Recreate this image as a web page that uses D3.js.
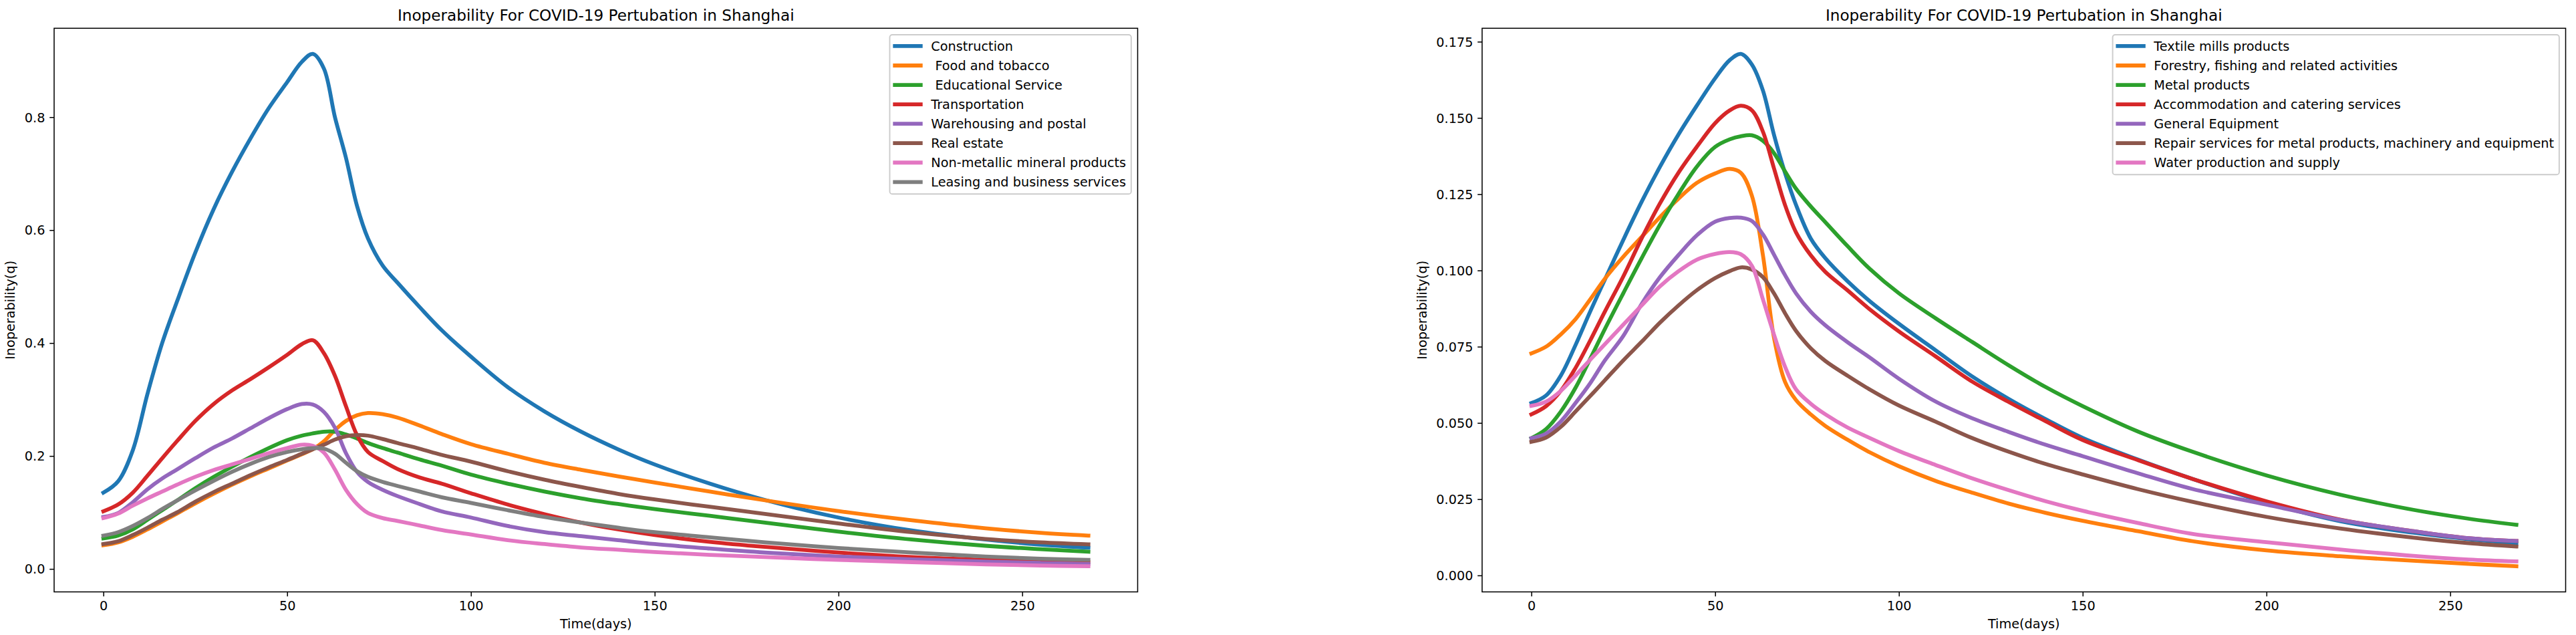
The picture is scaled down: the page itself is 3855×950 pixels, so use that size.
<!DOCTYPE html>
<html>
<head>
<meta charset="utf-8">
<script src="https://cdn.jsdelivr.net/npm/d3@7"></script>
<style>
    body { margin: 0; background: #fff; }
    text { font-family: "DejaVu Sans", sans-serif; fill: #000; }
    .legend text { white-space: pre; }
</style>
</head>
<body>
<div id="chart"></div>
<script>
// sample days shared by every curve
const days = [0, 4, 8, 12, 16, 20, 25, 30, 35, 40, 45, 50, 54, 57, 60, 63, 66, 69, 72, 76,
              80, 86, 92, 100, 110, 120, 130, 140, 150, 165, 180, 200, 220, 240, 255, 268]

// left panel series
const construction = [0.135, 0.155, 0.21, 0.31, 0.4, 0.473, 0.56, 0.637, 0.703, 0.762, 0.816, 0.862, 0.898, 0.912, 0.886, 0.8, 0.728, 0.643, 0.585, 0.537,
                      0.507, 0.464, 0.423, 0.376, 0.322, 0.279, 0.243, 0.212, 0.185, 0.151, 0.122, 0.091, 0.068, 0.052, 0.043, 0.0376]
const food = [0.042, 0.047, 0.057, 0.07, 0.084, 0.098, 0.116, 0.133, 0.149, 0.164, 0.178, 0.192, 0.203, 0.212, 0.226, 0.246, 0.262, 0.272, 0.276, 0.274,
              0.268, 0.254, 0.239, 0.221, 0.204, 0.188, 0.1755, 0.164, 0.153, 0.137, 0.1215, 0.1025, 0.086, 0.072, 0.064, 0.059]
const educational = [0.054, 0.059, 0.07, 0.087, 0.104, 0.121, 0.143, 0.163, 0.181, 0.198, 0.214, 0.228, 0.236, 0.24, 0.243, 0.243, 0.238, 0.231, 0.223, 0.214,
                     0.206, 0.194, 0.183, 0.167, 0.151, 0.137, 0.125, 0.115, 0.106, 0.094, 0.082, 0.066, 0.052, 0.041, 0.035, 0.0305]
const transport = [0.102, 0.114, 0.135, 0.165, 0.196, 0.226, 0.262, 0.292, 0.316, 0.336, 0.357, 0.379, 0.398, 0.405, 0.382, 0.342, 0.288, 0.237, 0.207, 0.191,
                   0.177, 0.162, 0.151, 0.134, 0.114, 0.097, 0.082, 0.07, 0.06, 0.048, 0.039, 0.029, 0.021, 0.016, 0.0135, 0.012]
const warehousing = [0.092, 0.099, 0.118, 0.141, 0.16, 0.176, 0.196, 0.215, 0.231, 0.249, 0.267, 0.283, 0.292, 0.291, 0.278, 0.25, 0.205, 0.172, 0.154, 0.14,
                     0.129, 0.115, 0.102, 0.091, 0.076, 0.065, 0.058, 0.051, 0.044, 0.036, 0.029, 0.022, 0.017, 0.013, 0.0105, 0.0087]
const realEstate = [0.044, 0.049, 0.06, 0.073, 0.087, 0.1, 0.119, 0.136, 0.151, 0.166, 0.18, 0.193, 0.204, 0.212, 0.22, 0.229, 0.235, 0.237, 0.236, 0.23,
                    0.223, 0.213, 0.202, 0.19, 0.173, 0.158, 0.145, 0.133, 0.123, 0.11, 0.0975, 0.0805, 0.065, 0.053, 0.047, 0.0435]
const nonMetallic = [0.09, 0.098, 0.112, 0.125, 0.137, 0.149, 0.163, 0.175, 0.185, 0.195, 0.205, 0.214, 0.22, 0.218, 0.206, 0.176, 0.14, 0.115, 0.099, 0.09,
                     0.085, 0.077, 0.069, 0.061, 0.051, 0.044, 0.038, 0.034, 0.03, 0.025, 0.021, 0.016, 0.012, 0.008, 0.006, 0.0047]
const leasing = [0.059, 0.065, 0.076, 0.09, 0.106, 0.121, 0.139, 0.156, 0.172, 0.186, 0.198, 0.207, 0.212, 0.214, 0.213, 0.204, 0.188, 0.173, 0.163, 0.154,
                 0.147, 0.137, 0.127, 0.117, 0.104, 0.092, 0.082, 0.073, 0.065, 0.056, 0.047, 0.037, 0.029, 0.022, 0.018, 0.016]

// right panel series
const textile = [0.0565, 0.059, 0.0655, 0.0755, 0.0865, 0.097, 0.11, 0.1225, 0.134, 0.1445, 0.154, 0.163, 0.169, 0.171, 0.1675, 0.159, 0.1445, 0.132, 0.1215, 0.1105,
                 0.104, 0.0965, 0.09, 0.0825, 0.0738, 0.0652, 0.0578, 0.0512, 0.0451, 0.038, 0.0316, 0.0239, 0.0178, 0.014, 0.0119, 0.0106]
const forestry = [0.0728, 0.075, 0.079, 0.084, 0.0905, 0.0973, 0.1045, 0.111, 0.1175, 0.1235, 0.1287, 0.1318, 0.1333, 0.132, 0.1245, 0.105, 0.078, 0.0635, 0.0575, 0.0528,
                  0.049, 0.0445, 0.0404, 0.0358, 0.031, 0.0271, 0.0235, 0.0205, 0.0179, 0.0145, 0.0112, 0.0082, 0.0063, 0.0048, 0.0038, 0.003]
const metal = [0.045, 0.048, 0.0537, 0.0615, 0.071, 0.0808, 0.0925, 0.104, 0.115, 0.125, 0.134, 0.1405, 0.143, 0.144, 0.1443, 0.1425, 0.1385, 0.1325, 0.1268, 0.121,
               0.1158, 0.108, 0.1006, 0.0925, 0.0843, 0.0765, 0.0688, 0.0617, 0.0555, 0.0472, 0.0405, 0.0328, 0.0265, 0.0215, 0.0186, 0.0166]
const accommodation = [0.0528, 0.0555, 0.0605, 0.068, 0.077, 0.0865, 0.098, 0.1105, 0.122, 0.132, 0.1405, 0.1483, 0.1525, 0.154, 0.1525, 0.1455, 0.1335, 0.1215, 0.1125, 0.105,
                       0.0995, 0.0935, 0.0873, 0.08, 0.0718, 0.0635, 0.0568, 0.0505, 0.0444, 0.0378, 0.0316, 0.0243, 0.0183, 0.0145, 0.0122, 0.0113]
const general = [0.045, 0.0465, 0.0505, 0.0565, 0.063, 0.0705, 0.0785, 0.089, 0.0978, 0.105, 0.1115, 0.116, 0.1172, 0.1173, 0.1162, 0.1118, 0.1052, 0.0985, 0.0925, 0.0865,
                 0.082, 0.0765, 0.0715, 0.0645, 0.057, 0.0515, 0.047, 0.0428, 0.0391, 0.0335, 0.0283, 0.0232, 0.0182, 0.0145, 0.0122, 0.0113]
const repair = [0.0438, 0.0452, 0.0487, 0.0537, 0.0588, 0.064, 0.0705, 0.0766, 0.0829, 0.0885, 0.0935, 0.0975, 0.0998, 0.101, 0.1003, 0.0978, 0.0925, 0.086, 0.0802, 0.0745,
                0.0703, 0.0655, 0.061, 0.0557, 0.0504, 0.045, 0.0405, 0.0365, 0.0331, 0.0283, 0.0241, 0.0192, 0.0154, 0.0124, 0.0106, 0.0095]
const water = [0.0556, 0.057, 0.0605, 0.0655, 0.0707, 0.0758, 0.0822, 0.0885, 0.0948, 0.0997, 0.1035, 0.1054, 0.106, 0.1053, 0.1015, 0.0905, 0.079, 0.0685, 0.061, 0.0563,
               0.0528, 0.0485, 0.0451, 0.0408, 0.0362, 0.0318, 0.0279, 0.0243, 0.0212, 0.0172, 0.0136, 0.0109, 0.0085, 0.0064, 0.0052, 0.0046]

const leftNames = ["Construction", " Food and tobacco", " Educational Service", "Transportation",
                   "Warehousing and postal", "Real estate", "Non-metallic mineral products", "Leasing and business services"]
const rightNames = ["Textile mills products", "Forestry, fishing and related activities", "Metal products",
                    "Accommodation and catering services", "General Equipment",
                    "Repair services for metal products, machinery and equipment", "Water production and supply"]

const xTicks = [0, 50, 100, 150, 200, 250]
const leftYTicks = [0, 0.2, 0.4, 0.6, 0.8]
const rightYTicks = [0, 0.025, 0.05, 0.075, 0.1, 0.125, 0.15, 0.175]

const titleText = "Inoperability For COVID-19 Pertubation in Shanghai"
const xLabel = "Time(days)"
const yLabel = "Inoperability(q)"

// layout
const PT = 1.93                 // px per point
const FS = 10 * PT              // base font size
const axW = 1621.5, axTop = 42.3, axBottom = 885.5
const colors = d3.schemeCategory10

let svg = d3.select("#chart")
            .append("svg")
                .attr("width", 3855)
                .attr("height", 950)

svg.append("rect").attr("width", 3855).attr("height", 950).attr("fill", "#fff")

const panels = [
    { left: 81, names: leftNames, series: [construction, food, educational, transport, warehousing, realEstate, nonMetallic, leasing],
      yTicks: leftYTicks, fmt: ".1f", ylabelOff: 59 },
    { left: 2218, names: rightNames, series: [textile, forestry, metal, accommodation, general, repair, water],
      yTicks: rightYTicks, fmt: ".3f", ylabelOff: 83 }
]

panels.forEach(drawPanel)

function padded(vals) {
    let [lo, hi] = d3.extent(vals)
    let m = (hi - lo) * 0.05
    return [lo - m, hi + m]
}

function drawPanel(p) {
    let x = d3.scaleLinear().domain(padded(days)).range([p.left, p.left + axW])
    let y = d3.scaleLinear().domain(padded(p.series.flat())).range([axBottom, axTop])
    let g = svg.append("g")

    let line = d3.line()
                .x((d, i) => x(days[i]))
                .y(d => y(d))
                .curve(d3.curveCatmullRom.alpha(0.5))

    g.selectAll("path.series")
        .data(p.series)
        .enter().append("path")
            .attr("class", "series")
            .attr("fill", "none")
            .attr("stroke", (d, i) => colors[i])
            .attr("stroke-width", 3 * PT)
            .attr("stroke-linecap", "square")
            .attr("stroke-linejoin", "round")
            .attr("d", line)

    // axes
    let xAxis = g.append("g")
                .attr("transform", `translate(0,${axBottom})`)
                .call(d3.axisBottom(x).tickValues(xTicks).tickSize(3.5 * PT).tickSizeOuter(0).tickPadding(3.5 * PT))
    let yAxis = g.append("g")
                .attr("transform", `translate(${p.left},0)`)
                .call(d3.axisLeft(y).tickValues(p.yTicks).tickFormat(d3.format(p.fmt)).tickSize(3.5 * PT).tickSizeOuter(0).tickPadding(3.5 * PT))
    for (let a of [xAxis, yAxis]) {
        a.select(".domain").remove()
        a.attr("font-family", null).attr("font-size", null)
        a.selectAll("line").attr("stroke", "#000").attr("stroke-width", 0.8 * PT)
        a.selectAll("text").attr("font-size", FS).attr("fill", "#000")
    }
    yAxis.selectAll("text").attr("dy", "0.35em")

    g.append("rect")
        .attr("x", p.left).attr("y", axTop)
        .attr("width", axW).attr("height", axBottom - axTop)
        .attr("fill", "none")
        .attr("stroke", "#000")
        .attr("stroke-width", 0.8 * PT)

    // labels
    let cx = p.left + axW / 2
    g.append("text")
        .attr("x", cx).attr("y", axTop - 6 * PT)
        .attr("text-anchor", "middle")
        .attr("font-size", 12 * PT)
        .text(titleText)
    g.append("text")
        .attr("x", cx).attr("y", 939.5)
        .attr("text-anchor", "middle")
        .attr("font-size", FS)
        .text(xLabel)
    g.append("text")
        .attr("transform", `translate(${p.left - p.ylabelOff},${(axTop + axBottom) / 2}) rotate(-90)`)
        .attr("text-anchor", "middle")
        .attr("font-size", FS)
        .text(yLabel)

    drawLegend(g, p)
}

function drawLegend(g, p) {
    let pitch = 29.05
    let right = p.left + axW - 0.5 * FS
    let top = axTop + 0.5 * FS
    let lg = g.append("g").attr("class", "legend")
    let box = lg.append("rect")
    let items = lg.selectAll("g.item")
                .data(p.names)
                .enter().append("g")
                    .attr("class", "item")
                    .attr("transform", (d, i) => `translate(0,${top + 17 + i * pitch})`)
    items.append("text")
        .attr("font-size", FS)
        .attr("dy", "0.35em")
        .text(d => d)
    let textW = d3.max(items.selectAll("text").nodes(), n => n.getComputedTextLength())
    let boxW = 0.4 * FS + 2 * FS + 0.8 * FS + textW + 0.4 * FS
    let left = right - boxW
    box.attr("x", left).attr("y", top)
        .attr("width", boxW)
        .attr("height", 35 + (p.names.length - 1) * pitch)
        .attr("rx", 0.2 * FS)
        .attr("fill", "#fff").attr("fill-opacity", 0.8)
        .attr("stroke", "#ccc").attr("stroke-width", PT)
    items.append("line")
        .attr("x1", left + 0.4 * FS).attr("x2", left + 2.4 * FS)
        .attr("stroke", (d, i) => colors[i])
        .attr("stroke-width", 3 * PT)
        .attr("stroke-linecap", "square")
    items.select("text").attr("x", left + 3.2 * FS)
}
</script>
</body>
</html>
